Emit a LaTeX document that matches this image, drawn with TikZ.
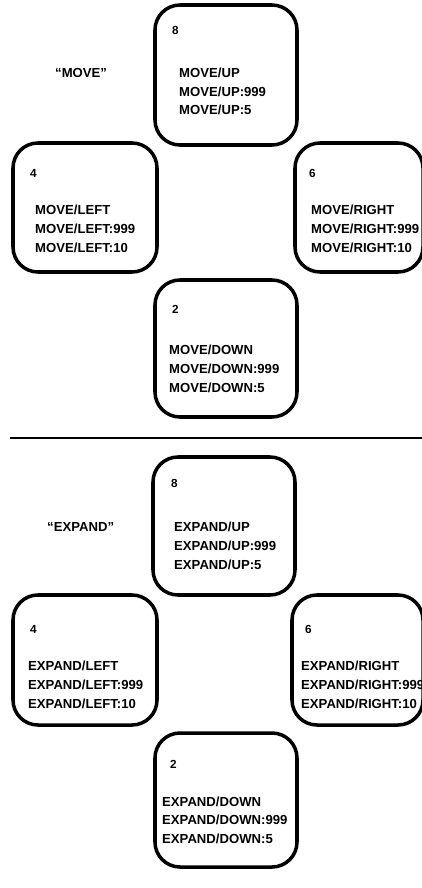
\documentclass[tikz,border=0pt]{standalone}
\usepackage{fontspec}
\setmainfont{Liberation Sans}

\tikzset{
  keybox/.style={line width=3pt, rounded corners=7.5mm},
  cmd/.style={anchor=west, inner sep=0pt, font=\fontsize{11.2}{13}\selectfont\bfseries},
  keyno/.style={anchor=west, inner sep=0pt, font=\fontsize{10}{12}\selectfont\bfseries},
  mode/.style={anchor=west, inner sep=0pt, font=\fontsize{11.2}{13}\selectfont\bfseries}
}

\begin{document}
\begin{tikzpicture}[x=0.3mm, y=-0.3mm]
        % Seite 422 x 888, Koordinaten in Pixeln (y nach unten)
        \useasboundingbox (0,0) rectangle (422,888);

        % ---- oberer Teil: MOVE ----
        \draw[keybox] (155,5) rectangle (297,145);
        \draw[keybox] (13,143) rectangle (157,272);
        \draw[keybox] (295,143) rectangle (423,272);
        \draw[keybox] (155,280) rectangle (297,417);

        \node[mode] (mvTitle) at (55,73) {“MOVE”};

        \node[keyno] (m8) at (172,30) {8};
        \node[cmd] (m8a) at (179,73) {MOVE/UP};
        \node[cmd] (m8b) at (179,92) {MOVE/UP:999};
        \node[cmd] (m8c) at (179,110) {MOVE/UP:5};

        \node[keyno] (m4) at (30,173) {4};
        \node[cmd] (m4a) at (35,210) {MOVE/LEFT};
        \node[cmd] (m4b) at (35,229) {MOVE/LEFT:999};
        \node[cmd] (m4c) at (35,248) {MOVE/LEFT:10};

        \node[keyno] (m6) at (309,173) {6};
        \node[cmd] (m6a) at (311,210) {MOVE/RIGHT};
        \node[cmd] (m6b) at (311,229) {MOVE/RIGHT:999};
        \node[cmd] (m6c) at (311,248) {MOVE/RIGHT:10};

        \node[keyno] (m2) at (172,309) {2};
        \node[cmd] (m2a) at (169,350) {MOVE/DOWN};
        \node[cmd] (m2b) at (169,369) {MOVE/DOWN:999};
        \node[cmd] (m2c) at (169,388) {MOVE/DOWN:5};

        % Trennlinie
        \coordinate (ruleL) at (10,438);
        \coordinate (ruleR) at (422,438);
        \draw[line width=1.7pt] (ruleL) -- (ruleR);

        % ---- unterer Teil: EXPAND ----
        \draw[keybox] (153,457) rectangle (295,595);
        \draw[keybox] (13,595) rectangle (157,725);
        \draw[keybox] (292,595) rectangle (423,725);
        \draw[keybox] (155,733) rectangle (297,867);

        \node[mode] (exTitle) at (47,527) {“EXPAND”};

        \node[keyno] (e8) at (171,483) {8};
        \node[cmd] (e8a) at (174,527) {EXPAND/UP};
        \node[cmd] (e8b) at (174,546) {EXPAND/UP:999};
        \node[cmd] (e8c) at (174,565) {EXPAND/UP:5};

        \node[keyno] (e4) at (30,629) {4};
        \node[cmd] (e4a) at (28,666) {EXPAND/LEFT};
        \node[cmd] (e4b) at (28,685) {EXPAND/LEFT:999};
        \node[cmd] (e4c) at (28,704) {EXPAND/LEFT:10};

        \node[keyno] (e6) at (305,629) {6};
        \node[cmd] (e6a) at (301,666) {EXPAND/RIGHT};
        \node[cmd] (e6b) at (301,685) {EXPAND/RIGHT:999};
        \node[cmd] (e6c) at (301,704) {EXPAND/RIGHT:10};

        \node[keyno] (e2) at (170,764) {2};
        \node[cmd] (e2a) at (162,802) {EXPAND/DOWN};
        \node[cmd] (e2b) at (162,820) {EXPAND/DOWN:999};
        \node[cmd] (e2c) at (162,839) {EXPAND/DOWN:5};

    \end{tikzpicture}
\end{document}
